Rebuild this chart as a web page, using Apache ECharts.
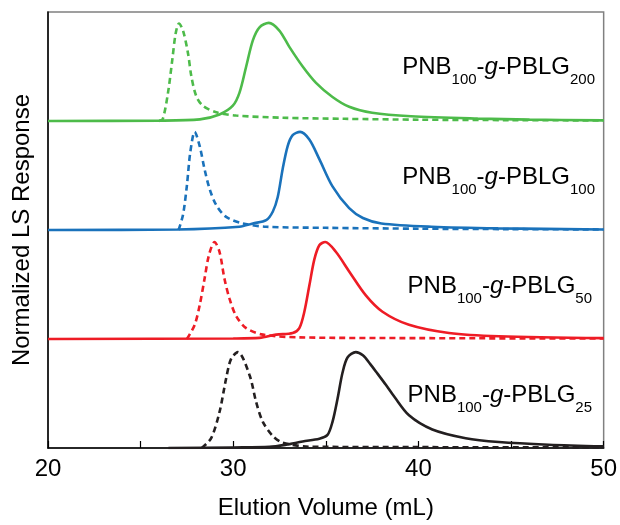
<!DOCTYPE html>
<html>
<head>
<meta charset="utf-8">
<script src="https://cdn.jsdelivr.net/npm/echarts@6/dist/echarts.min.js"></script>
<style>html,body{margin:0;padding:0;background:#fff}#c{width:620px;height:525px}</style>
</head>
<body>
<div id="c"></div>
<script>
// x tick labels
const xTicks = [20, 25, 30, 35, 40, 45, 50];
// vertical offsets of each sample trace (stacked)
const offsets = { pb25: 0, pb50: 1, pb100: 2, pb200: 3 };
const colors = { pb25: '#231f20', pb50: '#ee1c25', pb100: '#1a72bb', pb200: '#4dbb4a' };
const labelSubs = { pb25: '25', pb50: '50', pb100: '100', pb200: '200' };

// [elution volume (mL), normalized LS response] - solid = graft copolymer, dashed = macromonomer/backbone
const pb200Solid = [[20,0],[26,0.003],[28.2,0.015],[29.26,0.06],[29.98,0.14],[30.34,0.26],[30.7,0.5],[31.06,0.74],[31.42,0.86],[31.92,0.9],[32.49,0.83],[33.03,0.68],[33.75,0.5],[34.47,0.35],[35.36,0.22],[36.26,0.13],[37.5,0.075],[39.6,0.043],[43.2,0.022],[46,0.013],[50,0.006]];
const pb200Dash = [[26.0,0],[26.2,0.02],[26.48,0.26],[26.71,0.56],[26.89,0.8],[27.07,0.895],[27.29,0.83],[27.56,0.62],[27.74,0.41],[28.0,0.23],[28.36,0.14],[29.08,0.08],[30.16,0.05],[32.67,0.03],[36,0.02],[40,0.012],[45,0.008],[50,0.005]];
const pb100Solid = [[20,0],[27,0.005],[30.34,0.03],[31.06,0.06],[31.78,0.09],[32.14,0.17],[32.4,0.3],[32.67,0.56],[32.94,0.77],[33.21,0.87],[33.61,0.9],[34.11,0.83],[34.65,0.65],[35.36,0.4],[36.26,0.2],[37,0.11],[38,0.06],[40.7,0.03],[44.3,0.015],[50,0.005]];
const pb100Dash = [[27.05,0],[27.29,0.14],[27.5,0.41],[27.68,0.71],[27.92,0.9],[28.19,0.77],[28.45,0.56],[28.72,0.38],[29.08,0.23],[29.62,0.12],[30.52,0.06],[31.78,0.03],[35,0.02],[40,0.012],[45,0.008],[50,0.005]];
const pb50Solid = [[20,0],[30,0.005],[31.42,0.01],[32.32,0.04],[33.21,0.055],[33.57,0.1],[33.84,0.25],[34.11,0.49],[34.38,0.73],[34.65,0.86],[34.97,0.89],[35.54,0.8],[36.26,0.62],[37.16,0.4],[38.06,0.25],[39.49,0.13],[41.65,0.055],[44.34,0.025],[50,0.008]];
const pb50Dash = [[27.5,0],[27.92,0.13],[28.19,0.31],[28.45,0.55],[28.69,0.77],[28.99,0.89],[29.26,0.8],[29.53,0.55],[29.8,0.37],[30.16,0.21],[30.7,0.1],[31.6,0.04],[33.57,0.015],[40,0.008],[50,0.004]];
const pb25Solid = [[26.5,0],[30,0.005],[31.96,0.01],[32.85,0.03],[33.75,0.06],[34.65,0.085],[35.09,0.12],[35.36,0.24],[35.63,0.45],[35.9,0.69],[36.17,0.83],[36.62,0.88],[37.0,0.85],[37.4,0.77],[37.8,0.68],[38.24,0.58],[38.7,0.47],[39.49,0.3],[40.75,0.17],[42.55,0.09],[44.34,0.055],[47.03,0.03],[50,0.015]];
const pb25Dash = [[28.3,0],[28.81,0.09],[29.26,0.33],[29.62,0.64],[29.89,0.82],[30.25,0.88],[30.88,0.67],[31.24,0.42],[31.6,0.24],[32.14,0.11],[32.67,0.05],[34.1,0.012],[40,0.008],[50,0.005]];

const curves = [
  ['pb25', pb25Dash, true], ['pb25', pb25Solid, false],
  ['pb50', pb50Dash, true], ['pb50', pb50Solid, false],
  ['pb100', pb100Dash, true], ['pb100', pb100Solid, false],
  ['pb200', pb200Dash, true], ['pb200', pb200Solid, false]
];

const FONT = "'Liberation Sans', Arial, sans-serif";

const series = curves.map(([key, pts, dashed]) => ({
  type: 'line',
  data: pts.map(p => [p[0], p[1] + offsets[key]]),
  showSymbol: false,
  smooth: 0.3,
  silent: true,
  lineStyle: { color: colors[key], width: 2.6, type: dashed ? [6, 4] : 'solid' },
  z: dashed ? 2 : 3
}));

const labelPos = { pb200: [25, 55], pb100: [25, 165], pb50: [28, 274], pb25: [28, 383] };
const graphic = Object.keys(labelPos).map(key => ({
  type: 'text',
  right: labelPos[key][0],
  top: labelPos[key][1],
  silent: true,
  style: {
    text: '{m|PNB}{s|100}{m|-}{i|g}{m|-PBLG}{s|' + labelSubs[key] + '}',
    fill: '#000',
    rich: {
      m: { fontSize: 24, fontFamily: FONT, lineHeight: 26, verticalAlign: 'top', fill: '#000' },
      i: { fontSize: 24, fontFamily: FONT, fontStyle: 'italic', lineHeight: 26, verticalAlign: 'top', fill: '#000' },
      s: { fontSize: 15, fontFamily: FONT, lineHeight: 32, verticalAlign: 'bottom', fill: '#000' }
    }
  }
}));

const chart = echarts.init(document.getElementById('c'), null, { renderer: 'canvas' });
chart.setOption({
  animation: false,
  backgroundColor: '#fff',
  grid: { left: 48, right: 15, top: 12, bottom: 74, show: true, borderColor: '#808080', borderWidth: 1.5, backgroundColor: 'transparent' },
  xAxis: {
    type: 'value', min: 20, max: 50, interval: 5,
    name: 'Elution Volume (mL)', nameLocation: 'middle', nameGap: 48,
    nameTextStyle: { fontSize: 24, fontFamily: FONT, color: '#000' },
    axisLine: { lineStyle: { color: '#000', width: 1.5 } },
    axisTick: { inside: true, length: 7, lineStyle: { color: '#000', width: 1.2 } },
    axisLabel: { fontSize: 24, fontFamily: FONT, color: '#000', margin: 9,
      formatter: v => (xTicks.includes(v) && v % 10 === 0) ? String(v) : '' },
    splitLine: { show: false }
  },
  yAxis: {
    type: 'value', min: 0, max: 4,
    name: 'Normalized LS Response', nameLocation: 'middle', nameGap: 14,
    nameTextStyle: { fontSize: 24, fontFamily: FONT, color: '#000' },
    axisLine: { show: true, lineStyle: { color: '#000', width: 1.5 } },
    axisTick: { show: false },
    axisLabel: { show: false },
    splitLine: { show: false }
  },
  series: series,
  graphic: graphic
});
</script>
</body>
</html>
